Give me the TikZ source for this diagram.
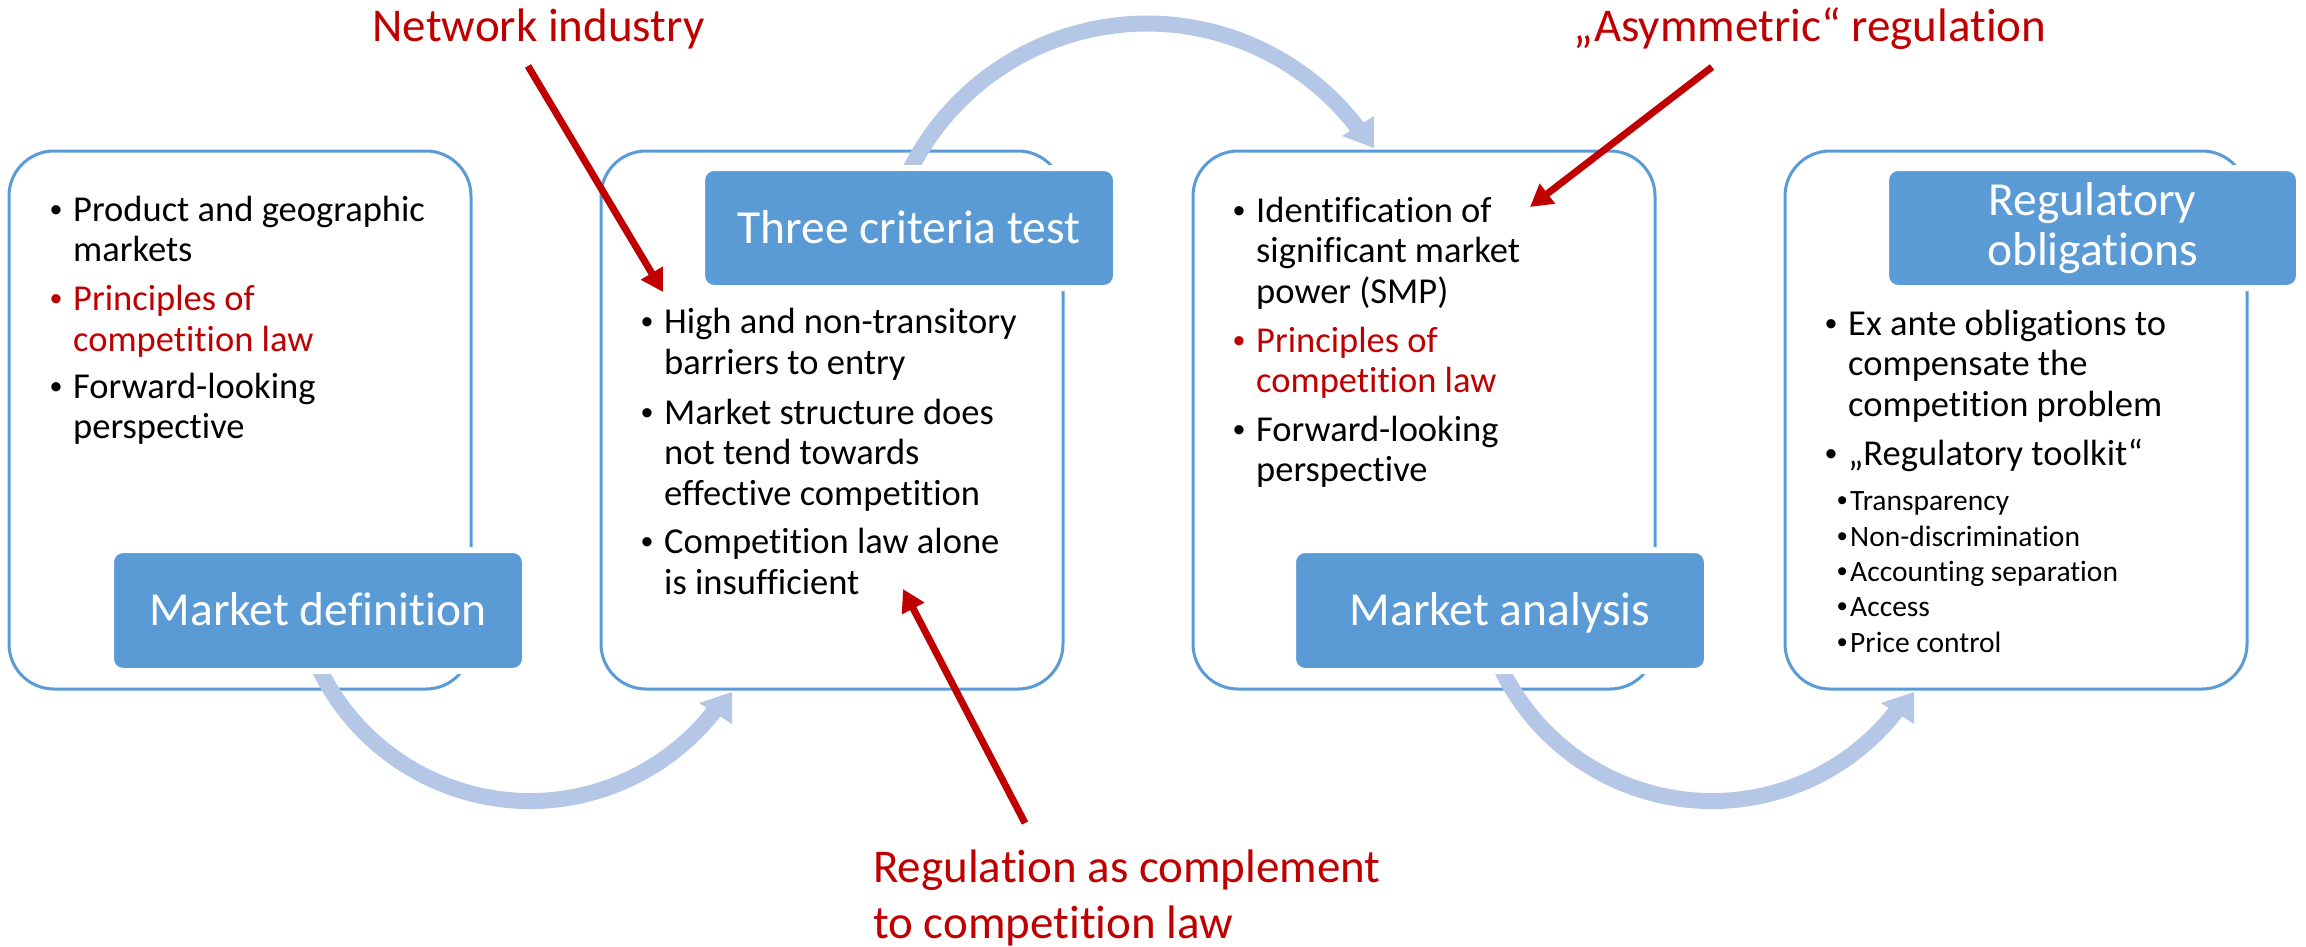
\documentclass[tikz,border=0pt]{standalone}
\usepackage{fontspec}
\setmainfont{Carlito}[Ligatures={NoCommon}]
\newfontfamily\bulletfont{Liberation Sans}
\usetikzlibrary{arrows.meta}
\definecolor{boxblue}{HTML}{5B9BD5}
\definecolor{lightarrow}{HTML}{B4C7E7}
\definecolor{darkred}{HTML}{C00000}
\newcommand\bitem[1]{\makebox[23pt][l]{{\bulletfont\fontsize{34}{34}\selectfont •}}\begin{tabular}[t]{@{}l@{}}#1\end{tabular}}
\newcommand\sitem[1]{\makebox[13pt][l]{{\bulletfont •}}#1}
\tikzset{
  outline/.style={draw=boxblue, line width=3pt, rounded corners=45pt, fill=white, inner sep=0pt},
  bluebox/.style={fill=boxblue, draw=white, line width=6pt, rounded corners=12pt, inner sep=0pt,
    text=white, font=\fontsize{47.5}{50}\selectfont, text height=30pt, text depth=0pt},
  titletext/.style={text=white, inner sep=0pt, anchor=base, font=\fontsize{47.5}{50}\selectfont},
  bandline/.style={draw=lightarrow, line width=16pt},
  bandhead/.style={fill=lightarrow},
  item/.style={anchor=base west, inner sep=0pt, font=\fontsize{36.5}{40.5}\selectfont},
  subitem/.style={anchor=base west, inner sep=0pt, font=\fontsize{29.5}{35}\selectfont},
  redlabel/.style={text=darkred, inner sep=0pt, font=\fontsize{47}{56}\selectfont},
  redarrow/.style={draw=darkred, line width=7pt, -{Triangle[length=22pt,width=24pt]}},
}
\begin{document}
\begin{tikzpicture}[x=1pt,y=-1pt]
\useasboundingbox (0,0) rectangle (2306,947);
\fill[white] (0,0) rectangle (2306,947);

% outline boxes
\node[outline, minimum width=462pt, minimum height=538pt] (box1) at (240,420) {};
\node[outline, minimum width=462pt, minimum height=538pt] (box2) at (832,420) {};
\node[outline, minimum width=462pt, minimum height=538pt] (box3) at (1424,420) {};
\node[outline, minimum width=462pt, minimum height=538pt] (box4) at (2016,420) {};

% light curved arrows
\draw[bandline] (530,567) ++(157:234) arc[start angle=157, end angle=38, radius=234];
\fill[bandhead] (699,703) -- (732,692) -- (732,724) -- cycle;
\draw[bandline] (1147,288.6) ++(204:265) arc[start angle=204, end angle=324, radius=265];
\fill[bandhead] (1342,136) -- (1374,116) -- (1374,148) -- cycle;
\draw[bandline] (1712,567) ++(157:234) arc[start angle=157, end angle=38, radius=234];
\fill[bandhead] (1881,703) -- (1914,692) -- (1914,724) -- cycle;

% blue title boxes
\node[bluebox, minimum width=414pt, minimum height=121pt] (mdef) at (318,610.5) {Market definition};
\node[bluebox, minimum width=414pt, minimum height=120pt] (three) at (909,228) {Three criteria test};
\node[bluebox, minimum width=414pt, minimum height=121pt] (manal) at (1500,610.5) {Market analysis};
\node[bluebox, minimum width=413pt, minimum height=120pt] (regob) at (2092.5,228) {};
\node[titletext] (regobtxt) at (2092.5,215) {\begin{tabular}[t]{@{}c@{}}Regulatory\\obligations\end{tabular}};

% box 1 items
\node[item] (b1i1) at (50,221) {\bitem{Product and geographic\\markets}};
\node[item, text=darkred] (b1i2) at (50,310.5) {\bitem{Principles of\\competition law}};
\node[item] (b1i3) at (50,398) {\bitem{Forward-looking\\perspective}};

% box 2 items
\node[item] (b2i1) at (641,333.5) {\bitem{High and non-transitory\\barriers to entry}};
\node[item] (b2i2) at (641,424) {\bitem{Market structure does\\not tend towards\\effective competition}};
\node[item] (b2i3) at (641,553.6) {\bitem{Competition law alone\\is insufficient}};

% box 3 items
\node[item] (b3i1) at (1233,222) {\bitem{Identification of\\significant market\\power (SMP)}};
\node[item, text=darkred] (b3i2) at (1233,352) {\bitem{Principles of\\competition law}};
\node[item] (b3i3) at (1233,441) {\bitem{Forward-looking\\perspective}};

% box 4 items
\node[item] (b4i1) at (1825,335) {\bitem{Ex ante obligations to\\compensate the\\competition problem}};
\node[item] (b4i2) at (1825,465) {\bitem{„Regulatory toolkit“}};
\node[subitem] (b4s1) at (1837,510.7) {\sitem{Transparency}};
\node[subitem] (b4s2) at (1837,546) {\sitem{Non-discrimination}};
\node[subitem] (b4s3) at (1837,581.7) {\sitem{Accounting separation}};
\node[subitem] (b4s4) at (1837,616.7) {\sitem{Access}};
\node[subitem] (b4s5) at (1837,652.3) {\sitem{Price control}};

% red labels
\node[redlabel, anchor=base] (netind) at (538.5,42) {Network industry};
\node[redlabel, anchor=base] (asym) at (1810,42) {„Asymmetric“ regulation};
\node[redlabel, anchor=base west] (regcomp) at (873,882) {\begin{tabular}[t]{@{}l@{}}Regulation as complement\\to competition law\end{tabular}};

% red arrows
\coordinate (netTail) at (528,66);
\coordinate (netTip) at (663,292);
\coordinate (asymTail) at (1712,67);
\coordinate (asymTip) at (1530,207);
\coordinate (compTail) at (1025,823);
\coordinate (compTip) at (903,589);
\draw[redarrow] (netTail) -- (netTip);
\draw[redarrow] (asymTail) -- (asymTip);
\draw[redarrow] (compTail) -- (compTip);
\end{tikzpicture}
\end{document}
